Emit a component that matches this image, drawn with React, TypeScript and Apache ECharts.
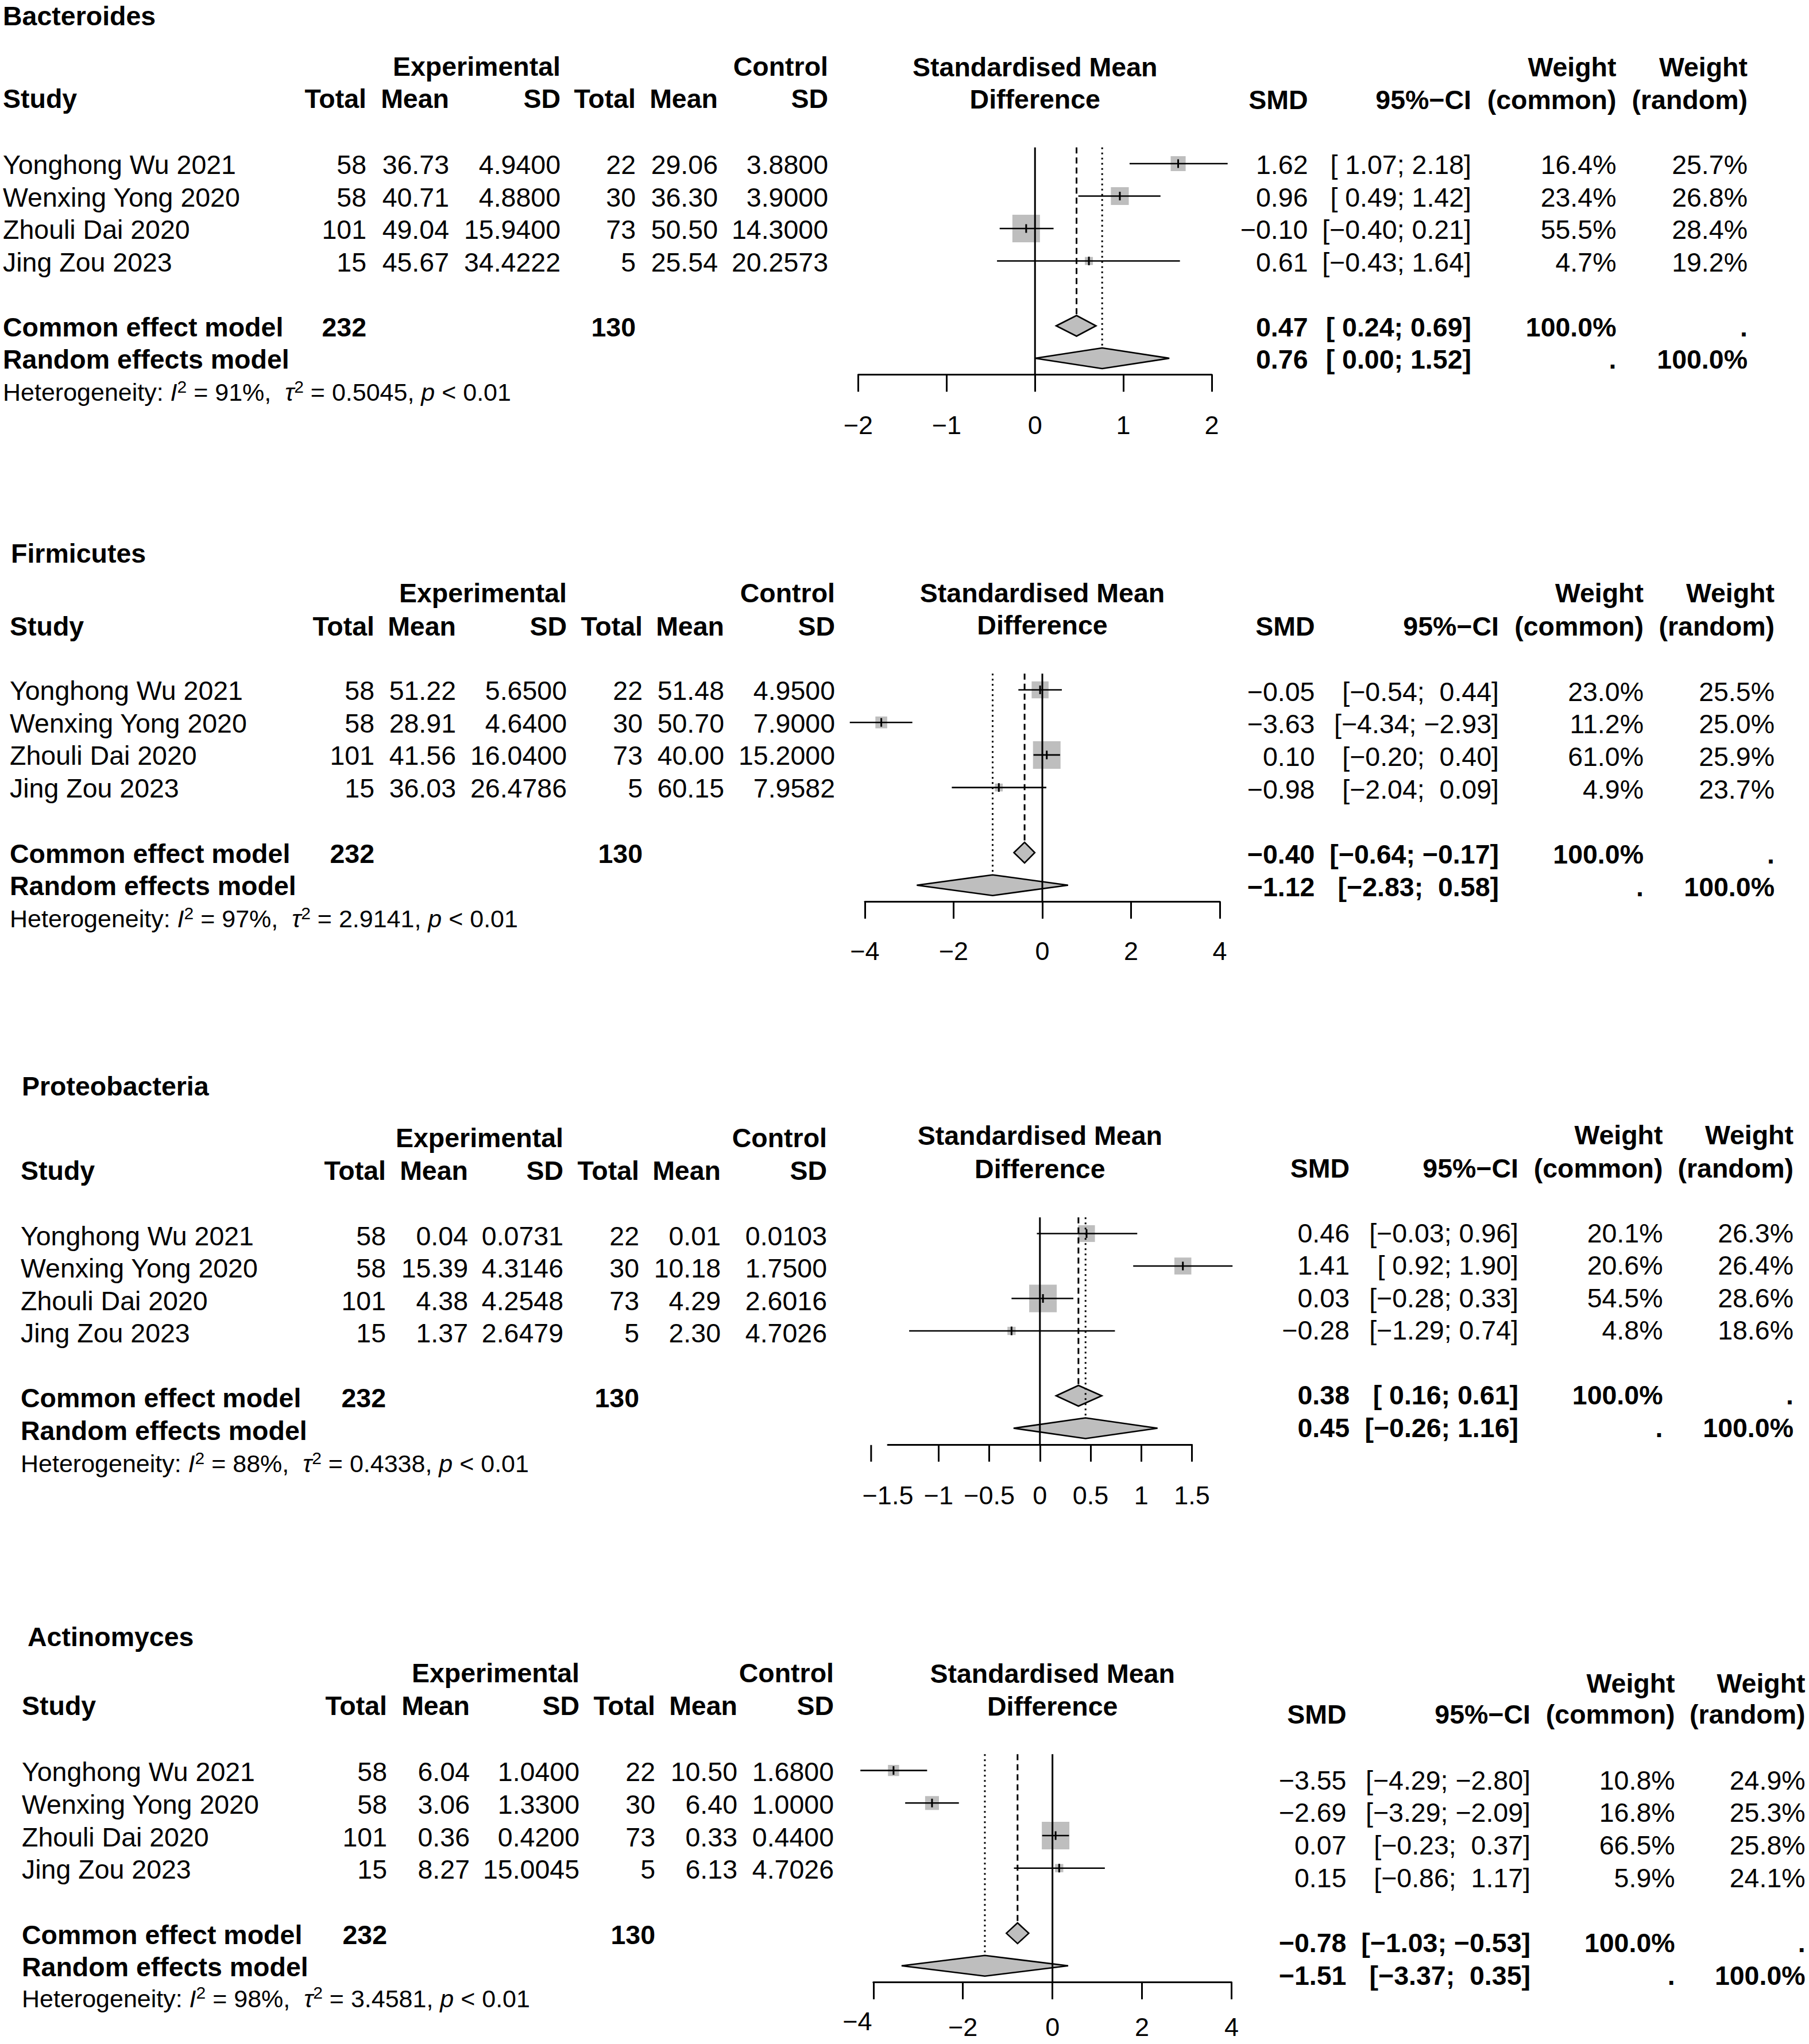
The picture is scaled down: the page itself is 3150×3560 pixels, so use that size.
import React, { useEffect, useRef } from "react";
import * as echarts from "echarts";

// ---------------- data ----------------
const studyNames = ["Yonghong Wu 2021", "Wenxing Yong 2020", "Zhouli Dai 2020", "Jing Zou 2023"];
const expTotal = [58, 58, 101, 15];
const ctlTotal = [22, 30, 73, 5];
const expTotalPooled = 232;
const ctlTotalPooled = 130;
const panelTitles = ["Bacteroides", "Firmicutes", "Proteobacteria", "Actinomyces"];

const bacteroidesExpMean = [36.73, 40.71, 49.04, 45.67];
const bacteroidesExpSD = [4.94, 4.88, 15.94, 34.4222];
const bacteroidesCtlMean = [29.06, 36.3, 50.5, 25.54];
const bacteroidesCtlSD = [3.88, 3.9, 14.3, 20.2573];
const bacteroidesSMD = [1.62, 0.96, -0.1, 0.61];
const bacteroidesLower = [1.07, 0.49, -0.4, -0.43];
const bacteroidesUpper = [2.18, 1.42, 0.21, 1.64];
const bacteroidesWCommon = [16.4, 23.4, 55.5, 4.7];
const bacteroidesWRandom = [25.7, 26.8, 28.4, 19.2];
const bacteroidesCommon = [0.47, 0.24, 0.69];
const bacteroidesRandom = [0.76, 0.0, 1.52];
const bacteroidesI2 = 91;
const bacteroidesTau2 = 0.5045;
const bacteroidesAxis = [-2, 2, 1];

const firmicutesExpMean = [51.22, 28.91, 41.56, 36.03];
const firmicutesExpSD = [5.65, 4.64, 16.04, 26.4786];
const firmicutesCtlMean = [51.48, 50.7, 40.0, 60.15];
const firmicutesCtlSD = [4.95, 7.9, 15.2, 7.9582];
const firmicutesSMD = [-0.05, -3.63, 0.1, -0.98];
const firmicutesLower = [-0.54, -4.34, -0.2, -2.04];
const firmicutesUpper = [0.44, -2.93, 0.4, 0.09];
const firmicutesWCommon = [23.0, 11.2, 61.0, 4.9];
const firmicutesWRandom = [25.5, 25.0, 25.9, 23.7];
const firmicutesCommon = [-0.4, -0.64, -0.17];
const firmicutesRandom = [-1.12, -2.83, 0.58];
const firmicutesI2 = 97;
const firmicutesTau2 = 2.9141;
const firmicutesAxis = [-4, 4, 2];

const proteoExpMean = [0.04, 15.39, 4.38, 1.37];
const proteoExpSD = [0.0731, 4.3146, 4.2548, 2.6479];
const proteoCtlMean = [0.01, 10.18, 4.29, 2.3];
const proteoCtlSD = [0.0103, 1.75, 2.6016, 4.7026];
const proteoSMD = [0.46, 1.41, 0.03, -0.28];
const proteoLower = [-0.03, 0.92, -0.28, -1.29];
const proteoUpper = [0.96, 1.9, 0.33, 0.74];
const proteoWCommon = [20.1, 20.6, 54.5, 4.8];
const proteoWRandom = [26.3, 26.4, 28.6, 18.6];
const proteoCommon = [0.38, 0.16, 0.61];
const proteoRandom = [0.45, -0.26, 1.16];
const proteoI2 = 88;
const proteoTau2 = 0.4338;
const proteoAxis = [-1.5, 1.5, 0.5];
const proteoHiddenTick = -1.5;
const proteoStrayTick = -1.665;

const actinoExpMean = [6.04, 3.06, 0.36, 8.27];
const actinoExpSD = [1.04, 1.33, 0.42, 15.0045];
const actinoCtlMean = [10.5, 6.4, 0.33, 6.13];
const actinoCtlSD = [1.68, 1.0, 0.44, 4.7026];
const actinoSMD = [-3.55, -2.69, 0.07, 0.15];
const actinoLower = [-4.29, -3.29, -0.23, -0.86];
const actinoUpper = [-2.8, -2.09, 0.37, 1.17];
const actinoWCommon = [10.8, 16.8, 66.5, 5.9];
const actinoWRandom = [24.9, 25.3, 25.8, 24.1];
const actinoCommon = [-0.78, -1.03, -0.53];
const actinoRandom = [-1.51, -3.37, 0.35];
const actinoI2 = 98;
const actinoTau2 = 3.4581;
const actinoAxis = [-4, 4, 2];
const actinoShiftedTick = -4;

// ---------------- layout / styles ----------------
const W = 3150;
const H = 3560;
const FONT = '"Liberation Sans", Arial, Helvetica, sans-serif';
const FS = 46.5;
const FS_HET = 43;
const FS_TICK = 45;
const SQUARE_MAX = 48;
const DIAMOND_HALF = 18;
const GREY = "#BEBEBE";
const NB = "\u00A0";

const layouts = [
  { titleX: 5, titleY: 28, studyX: 5, cols: [638, 782, 976, 1107, 1250, 1442], h1: 116, h2: 172, row0: 285, step: 56.5, tdy: 2, hetY: 683, axL: 1494.5, axR: 2110, mid1: 117.4, mid2: 172.5, rcols: [2277.5, 2562, 2814.5, 3043], rh1: 117, rh2: 174, rdy: 2, labelGap: 88, shiftUp: 0 },
  { titleX: 19, titleY: 964, studyX: 17, cols: [652, 794, 987, 1119, 1261, 1454], h1: 1033, h2: 1090.7, row0: 1201.5, step: 56.7, tdy: 1.5, hetY: 1600, axL: 1506, axR: 2124, mid1: 1033, mid2: 1089, rcols: [2289.5, 2610, 2862, 3090], rh1: 1033, rh2: 1090.7, rdy: 3, labelGap: 86, shiftUp: 0 },
  { titleX: 38, titleY: 1892, studyX: 36, cols: [672, 815, 981, 1113, 1255, 1440], h1: 1981.7, h2: 2039, row0: 2148.5, step: 56.5, tdy: 4, hetY: 2549, axL: 1546, axR: 2075.6, mid1: 1977.5, mid2: 2036, rcols: [2350, 2644, 2895.5, 3123], rh1: 1977, rh2: 2034.7, rdy: -1, labelGap: 89, shiftUp: 0 },
  { titleX: 48, titleY: 2850.7, studyX: 38, cols: [674, 818, 1009, 1141, 1284, 1452], h1: 2914, h2: 2971, row0: 3083.6, step: 56.7, tdy: 2.5, hetY: 3480.7, axL: 1520.8, axR: 2144.5, mid1: 2915, mid2: 2972, rcols: [2344.5, 2665, 2916.6, 3143.6], rh1: 2932, rh2: 2986, rdy: 17, labelGap: 78, shiftUp: 10 },
];

const panels = [
  { expMean: bacteroidesExpMean, expSD: bacteroidesExpSD, ctlMean: bacteroidesCtlMean, ctlSD: bacteroidesCtlSD, smd: bacteroidesSMD, lo: bacteroidesLower, hi: bacteroidesUpper, wc: bacteroidesWCommon, wr: bacteroidesWRandom, common: bacteroidesCommon, random: bacteroidesRandom, i2: bacteroidesI2, tau2: bacteroidesTau2, axis: bacteroidesAxis, hiddenTick: null as number | null, strayTick: null as number | null, shiftedTick: null as number | null },
  { expMean: firmicutesExpMean, expSD: firmicutesExpSD, ctlMean: firmicutesCtlMean, ctlSD: firmicutesCtlSD, smd: firmicutesSMD, lo: firmicutesLower, hi: firmicutesUpper, wc: firmicutesWCommon, wr: firmicutesWRandom, common: firmicutesCommon, random: firmicutesRandom, i2: firmicutesI2, tau2: firmicutesTau2, axis: firmicutesAxis, hiddenTick: null, strayTick: null, shiftedTick: null },
  { expMean: proteoExpMean, expSD: proteoExpSD, ctlMean: proteoCtlMean, ctlSD: proteoCtlSD, smd: proteoSMD, lo: proteoLower, hi: proteoUpper, wc: proteoWCommon, wr: proteoWRandom, common: proteoCommon, random: proteoRandom, i2: proteoI2, tau2: proteoTau2, axis: proteoAxis, hiddenTick: proteoHiddenTick, strayTick: proteoStrayTick, shiftedTick: null },
  { expMean: actinoExpMean, expSD: actinoExpSD, ctlMean: actinoCtlMean, ctlSD: actinoCtlSD, smd: actinoSMD, lo: actinoLower, hi: actinoUpper, wc: actinoWCommon, wr: actinoWRandom, common: actinoCommon, random: actinoRandom, i2: actinoI2, tau2: actinoTau2, axis: actinoAxis, hiddenTick: null, strayTick: null, shiftedTick: actinoShiftedTick },
];

// ---------------- helpers ----------------
function fmt(v: number, d: number): string {
  const s = Math.abs(v).toFixed(d);
  const neg = v < 0 && Number(s) !== 0;
  return (neg ? "\u2212" : "") + s;
}
function fmtTick(v: number): string {
  return (v < 0 ? "\u2212" : "") + String(Math.abs(v));
}
function padL(s: string, n: number): string {
  let r = s;
  while (r.length < n) r = NB + r;
  return r;
}

function T(text: string, x: number, y: number, o: any = {}) {
  const align = o.align || "left";
  return {
    type: "text",
    silent: true,
    x,
    y,
    z: 10,
    style: {
      text,
      fill: "#000",
      fontFamily: FONT,
      fontSize: o.size || FS,
      fontWeight: o.bold ? "bold" : "normal",
      fontStyle: o.italic ? "italic" : "normal",
      align,
      textAlign: align,
      verticalAlign: "middle",
      textVerticalAlign: "middle",
      rich: o.rich,
    },
  };
}

function buildOption() {
  const grid: any[] = [];
  const xAxis: any[] = [];
  const yAxis: any[] = [];
  const series: any[] = [];
  const texts: any[] = [];

  panels.forEach((P, pi) => {
    const L = layouts[pi];
    const [amin, amax, aint] = P.axis;
    grid.push({
      left: L.axL,
      width: L.axR - L.axL,
      top: L.row0 - L.step / 2,
      height: L.step * 7,
      containLabel: false,
      outerBoundsMode: "none",
    });
    const ticks: number[] = [];
    for (let v = amin; v <= amax + 1e-9; v += aint) ticks.push(Math.round(v * 1000) / 1000);
    const axisTick: any = { show: true, inside: false, length: 30, lineStyle: { color: "#000", width: 3 } };
    if (P.hiddenTick !== null) axisTick.customValues = ticks.filter((t) => Math.abs(t - (P.hiddenTick as number)) > 1e-9);
    const shifted = P.shiftedTick;
    xAxis.push({
      type: "value",
      gridIndex: pi,
      min: amin,
      max: amax,
      interval: aint,
      axisLine: { show: true, onZero: false, lineStyle: { color: "#000", width: 3 } },
      axisTick,
      splitLine: { show: false },
      axisLabel: {
        show: true,
        color: "#000",
        fontFamily: FONT,
        fontSize: FS_TICK,
        margin: L.labelGap - FS_TICK / 2,
        showMinLabel: true,
        showMaxLabel: true,
        hideOverlap: false,
        formatter: (v: number) => (shifted !== null && Math.abs(v - shifted) < 1e-9 ? "{sh|" + fmtTick(v) + "}" : fmtTick(v)),
        rich: { sh: { fontFamily: FONT, fontSize: FS_TICK, color: "#000", lineHeight: 45 - 2 * L.shiftUp, padding: [0, 56, 0, 0] } },
      },
    });
    yAxis.push({ type: "value", gridIndex: pi, min: -0.5, max: 6.5, inverse: true, show: false });

    const wmax = Math.max(...P.wc);
    const studyData = P.smd.map((s, i) => [s, P.lo[i], P.hi[i], P.wc[i], i, wmax]);
    series.push({
      type: "custom",
      coordinateSystem: "cartesian2d",
      xAxisIndex: pi,
      yAxisIndex: pi,
      clip: false,
      silent: true,
      z: 2,
      encode: { x: 0, y: 4 },
      data: studyData,
      renderItem: (params: any, api: any) => {
        const est = api.value(0), lo = api.value(1), hi = api.value(2), w = api.value(3), row = api.value(4), wm = api.value(5);
        const c = api.coord([est, row]);
        const l = api.coord([lo, row]);
        const h = api.coord([hi, row]);
        const s = SQUARE_MAX * Math.sqrt(w / wm);
        return {
          type: "group",
          children: [
            { type: "rect", shape: { x: c[0] - s / 2, y: c[1] - s / 2, width: s, height: s }, style: { fill: GREY, stroke: null } },
            { type: "line", shape: { x1: l[0], y1: l[1], x2: h[0], y2: h[1] }, style: { stroke: "#000", lineWidth: 2.6 } },
            { type: "line", shape: { x1: c[0], y1: c[1] - 7.5, x2: c[0], y2: c[1] + 7.5 }, style: { stroke: "#000", lineWidth: 3 } },
          ],
        };
      },
    });

    series.push({
      type: "custom",
      coordinateSystem: "cartesian2d",
      xAxisIndex: pi,
      yAxisIndex: pi,
      clip: false,
      silent: true,
      z: 2,
      encode: { x: [0, 1, 2], y: 3 },
      data: [
        [P.common[0], P.common[1], P.common[2], 5],
        [P.random[0], P.random[1], P.random[2], 6],
      ],
      renderItem: (params: any, api: any) => {
        const row = api.value(3);
        const c = api.coord([api.value(0), row]);
        const l = api.coord([api.value(1), row]);
        const h = api.coord([api.value(2), row]);
        return {
          type: "polygon",
          shape: { points: [[l[0], c[1]], [c[0], c[1] - DIAMOND_HALF], [h[0], c[1]], [c[0], c[1] + DIAMOND_HALF]] },
          style: { fill: GREY, stroke: "#000", lineWidth: 2.6, lineJoin: "miter" },
        };
      },
    });

    // reference lines: kind 0 = null effect, 1 = common (dashed), 2 = random (dotted), 3 = stray tick
    const refData: number[][] = [
      [0, 6.5, 0],
      [P.common[0], 5, 1],
      [P.random[0], 6, 2],
    ];
    if (P.strayTick !== null) refData.push([P.strayTick as number, 6.5, 3]);
    series.push({
      type: "custom",
      coordinateSystem: "cartesian2d",
      xAxisIndex: pi,
      yAxisIndex: pi,
      clip: false,
      silent: true,
      z: 3,
      encode: { x: 0, y: 1 },
      data: refData,
      renderItem: (params: any, api: any) => {
        const v = api.value(0), endRow = api.value(1), kind = api.value(2);
        const top = api.coord([v, -0.5]);
        const end = api.coord([v, endRow]);
        if (kind === 3) {
          return { type: "line", shape: { x1: end[0], y1: end[1] + 1, x2: end[0], y2: end[1] + 30 }, style: { stroke: "#000", lineWidth: 3 } };
        }
        const y2 = kind === 0 ? end[1] : end[1] - DIAMOND_HALF;
        const dash = kind === 1 ? [10.5, 7] : kind === 2 ? [3, 6] : null;
        return {
          type: "line",
          shape: { x1: top[0], y1: top[1], x2: end[0], y2 },
          style: { stroke: "#000", lineWidth: 3, lineDash: dash, lineCap: "butt" },
        };
      },
    });

    // ---------- texts ----------
    const rowY = (k: number) => L.row0 + k * L.step;
    const mid = (L.axL + L.axR) / 2;
    const B = { bold: true };
    const R = { bold: true, align: "right" };
    texts.push(T(panelTitles[pi], L.titleX, L.titleY, B));
    texts.push(T("Experimental", L.cols[2], L.h1, R));
    texts.push(T("Control", L.cols[5], L.h1, R));
    texts.push(T("Study", L.studyX, L.h2, B));
    ["Total", "Mean", "SD", "Total", "Mean", "SD"].forEach((h, k) => texts.push(T(h, L.cols[k], L.h2, R)));
    texts.push(T("Standardised Mean", mid, L.mid1, { bold: true, align: "center" }));
    texts.push(T("Difference", mid, L.mid2, { bold: true, align: "center" }));
    texts.push(T("Weight", L.rcols[2], L.rh1, R));
    texts.push(T("Weight", L.rcols[3], L.rh1, R));
    texts.push(T("SMD", L.rcols[0], L.rh2, R));
    texts.push(T("95%\u2212CI", L.rcols[1], L.rh2, R));
    texts.push(T("(common)", L.rcols[2], L.rh2, R));
    texts.push(T("(random)", L.rcols[3], L.rh2, R));

    const allLo = [...P.lo, P.common[1], P.random[1]].map((v) => fmt(v, 2));
    const allHi = [...P.hi, P.common[2], P.random[2]].map((v) => fmt(v, 2));
    const nLo = Math.max(...allLo.map((s) => s.length));
    const nHi = Math.max(...allHi.map((s) => s.length));
    const ci = allLo.map((s, i) => "[" + padL(s, nLo) + ";" + NB + padL(allHi[i], nHi) + "]");

    const RA = { align: "right" };
    studyNames.forEach((name, i) => {
      const y = rowY(i) + L.tdy;
      texts.push(T(name, L.studyX, y));
      texts.push(T(String(expTotal[i]), L.cols[0], y, RA));
      texts.push(T(fmt(P.expMean[i], 2), L.cols[1], y, RA));
      texts.push(T(fmt(P.expSD[i], 4), L.cols[2], y, RA));
      texts.push(T(String(ctlTotal[i]), L.cols[3], y, RA));
      texts.push(T(fmt(P.ctlMean[i], 2), L.cols[4], y, RA));
      texts.push(T(fmt(P.ctlSD[i], 4), L.cols[5], y, RA));
      const ry = rowY(i) + L.rdy;
      texts.push(T(fmt(P.smd[i], 2), L.rcols[0], ry, RA));
      texts.push(T(ci[i], L.rcols[1], ry, RA));
      texts.push(T(P.wc[i].toFixed(1) + "%", L.rcols[2], ry, RA));
      texts.push(T(P.wr[i].toFixed(1) + "%", L.rcols[3], ry, RA));
    });
    const yc = rowY(5) + L.tdy;
    const yr = rowY(6) + L.tdy;
    texts.push(T("Common effect model", L.studyX, yc, B));
    texts.push(T(String(expTotalPooled), L.cols[0], yc, R));
    texts.push(T(String(ctlTotalPooled), L.cols[3], yc, R));
    texts.push(T("Random effects model", L.studyX, yr, B));
    const ryc = rowY(5) + L.rdy;
    const ryr = rowY(6) + L.rdy;
    texts.push(T(fmt(P.common[0], 2), L.rcols[0], ryc, R));
    texts.push(T(ci[4], L.rcols[1], ryc, R));
    texts.push(T("100.0%", L.rcols[2], ryc, R));
    texts.push(T(".", L.rcols[3], ryc, R));
    texts.push(T(fmt(P.random[0], 2), L.rcols[0], ryr, R));
    texts.push(T(ci[5], L.rcols[1], ryr, R));
    texts.push(T(".", L.rcols[2], ryr, R));
    texts.push(T("100.0%", L.rcols[3], ryr, R));

    const het =
      "{n|Heterogeneity:" + NB + "}{i|I}{s|2}{n|" + NB + "=" + NB + P.i2 + "%," + NB + NB + "}{i|\u03C4}{s|2}{n|" + NB + "=" + NB +
      P.tau2.toFixed(4) + "," + NB + "}{i|p}{n|" + NB + "<" + NB + "0.01}";
    texts.push(
      T(het, L.studyX, L.hetY, {
        size: FS_HET,
        rich: {
          n: { fontFamily: FONT, fontSize: FS_HET, fill: "#000", lineHeight: 50 },
          i: { fontFamily: FONT, fontSize: FS_HET, fontStyle: "italic", fill: "#000", lineHeight: 50 },
          s: { fontFamily: FONT, fontSize: 30, fill: "#000", lineHeight: 29, verticalAlign: "top" },
        },
      })
    );
  });

  return {
    animation: false,
    backgroundColor: "#ffffff",
    grid,
    xAxis,
    yAxis,
    series,
    graphic: { elements: texts },
  };
}

export default function App() {
  const ref = useRef<HTMLDivElement>(null);
  useEffect(() => {
    document.body.style.margin = "0";
    const chart = echarts.init(ref.current as HTMLDivElement, null, { renderer: "svg", width: W, height: H });
    chart.setOption(buildOption() as any);
    return () => chart.dispose();
  }, []);
  return <div ref={ref} style={{ width: W, height: H, background: "#fff" }} />;
}
